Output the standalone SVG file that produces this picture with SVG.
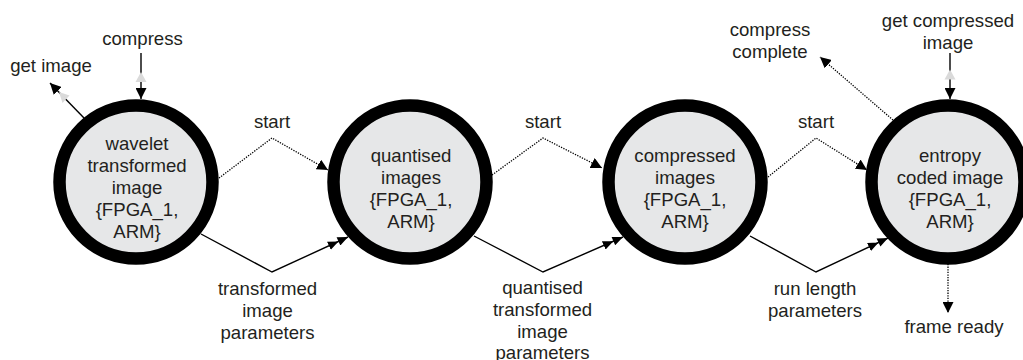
<svg xmlns="http://www.w3.org/2000/svg" width="1023" height="360" viewBox="0 0 1023 360">
  <style>
    text { font-family: "Liberation Sans", Arial, sans-serif; font-size: 18.6px; fill: #231f20; text-anchor: middle; }
    .state { fill: #e6e7e8; stroke: #000; stroke-width: 12.5; }
    .solid { fill: none; stroke: #000; stroke-width: 1.4; }
    .dotted { fill: none; stroke: #000; stroke-width: 1.3; stroke-dasharray: 1.3 1.3; }
    .ghost { fill: #dadada; }
  </style>
  <defs>
    <marker id="head" markerUnits="userSpaceOnUse" markerWidth="11" markerHeight="11" refX="11" refY="5.5" orient="auto">
      <path d="M0,0 L11,5.5 L0,11 z" fill="#000"/>
    </marker>
    <marker id="head2" markerUnits="userSpaceOnUse" markerWidth="21" markerHeight="9" refX="21" refY="4.5" orient="auto">
      <path d="M0,0 L10.5,4.5 L0,9 z M10.5,0 L21,4.5 L10.5,9 z" fill="#000"/>
    </marker>
  </defs>

  <!-- connectors -->
  <g id="connectors">
    <!-- start triggers (dotted) -->
    <path class="dotted" d="M219,178 L272,138 L328,170" marker-end="url(#head)"/>
    <path class="dotted" d="M492,175 L543,138 L602,168" marker-end="url(#head)"/>
    <path class="dotted" d="M768,177 L816,138 L867,170" marker-end="url(#head)"/>
    <!-- data flows (solid, double head) -->
    <path class="solid" d="M201,234 L272,272 L348,237" marker-end="url(#head2)"/>
    <path class="solid" d="M474,236 L543,272 L623,237" marker-end="url(#head2)"/>
    <path class="solid" d="M750,236 L816,272 L888,238" marker-end="url(#head2)"/>
    <!-- external interfaces -->
    <path class="solid" d="M141,53 L141,99" marker-end="url(#head)"/>
    <polygon class="ghost" points="141,72 135.5,82 146.5,82"/>
    <path class="solid" d="M84,118 L50,83" marker-end="url(#head)"/>
    <polygon class="ghost" points="59,92 69.5,95.5 62.5,103"/>
    <path class="solid" d="M950,53 L950,99" marker-end="url(#head)"/>
    <polygon class="ghost" points="950,69.5 944.5,79.5 955.5,79.5"/>
    <path class="dotted" d="M893,120 L820,57" marker-end="url(#head)"/>
    <path class="dotted" d="M948,264 L948,313" marker-end="url(#head)"/>
  </g>

  <!-- states -->
  <g id="wavelet">
    <circle class="state" cx="136" cy="182" r="76.5"/>
    <text x="137" y="150">wavelet</text>
    <text x="137" y="172">transformed</text>
    <text x="137" y="194">image</text>
    <text x="137" y="216">{FPGA_1,</text>
    <text x="137" y="238">ARM}</text>
  </g>
  <g id="quantised">
    <circle class="state" cx="410" cy="182" r="76.5"/>
    <text x="411" y="161.5">quantised</text>
    <text x="411" y="183.5">images</text>
    <text x="411" y="205.5">{FPGA_1,</text>
    <text x="411" y="227.5">ARM}</text>
  </g>
  <g id="compressed">
    <circle class="state" cx="685" cy="182" r="76.5"/>
    <text x="685" y="161.5">compressed</text>
    <text x="685" y="183.5">images</text>
    <text x="685" y="205.5">{FPGA_1,</text>
    <text x="685" y="227.5">ARM}</text>
  </g>
  <g id="entropy">
    <circle class="state" cx="948" cy="182" r="76.5"/>
    <text x="950" y="161.5">entropy</text>
    <text x="950" y="183.5">coded image</text>
    <text x="950" y="205.5">{FPGA_1,</text>
    <text x="950" y="227.5">ARM}</text>
  </g>

  <!-- labels -->
  <g id="labels">
    <text x="142.5" y="44.5">compress</text>
    <text x="51" y="72">get image</text>
    <text x="770" y="36">compress</text>
    <text x="770" y="58">complete</text>
    <text x="948" y="27">get compressed</text>
    <text x="948" y="49">image</text>
    <text x="272" y="128">start</text>
    <text x="543" y="128">start</text>
    <text x="816" y="128">start</text>
    <text x="267.5" y="294.5">transformed</text>
    <text x="267.5" y="316.5">image</text>
    <text x="267.5" y="338.5">parameters</text>
    <text x="542.5" y="294">quantised</text>
    <text x="542.5" y="316">transformed</text>
    <text x="542.5" y="338">image</text>
    <text x="542.5" y="359">parameters</text>
    <text x="815" y="294.5">run length</text>
    <text x="815" y="316.5">parameters</text>
    <text x="954" y="333">frame ready</text>
  </g>
</svg>
